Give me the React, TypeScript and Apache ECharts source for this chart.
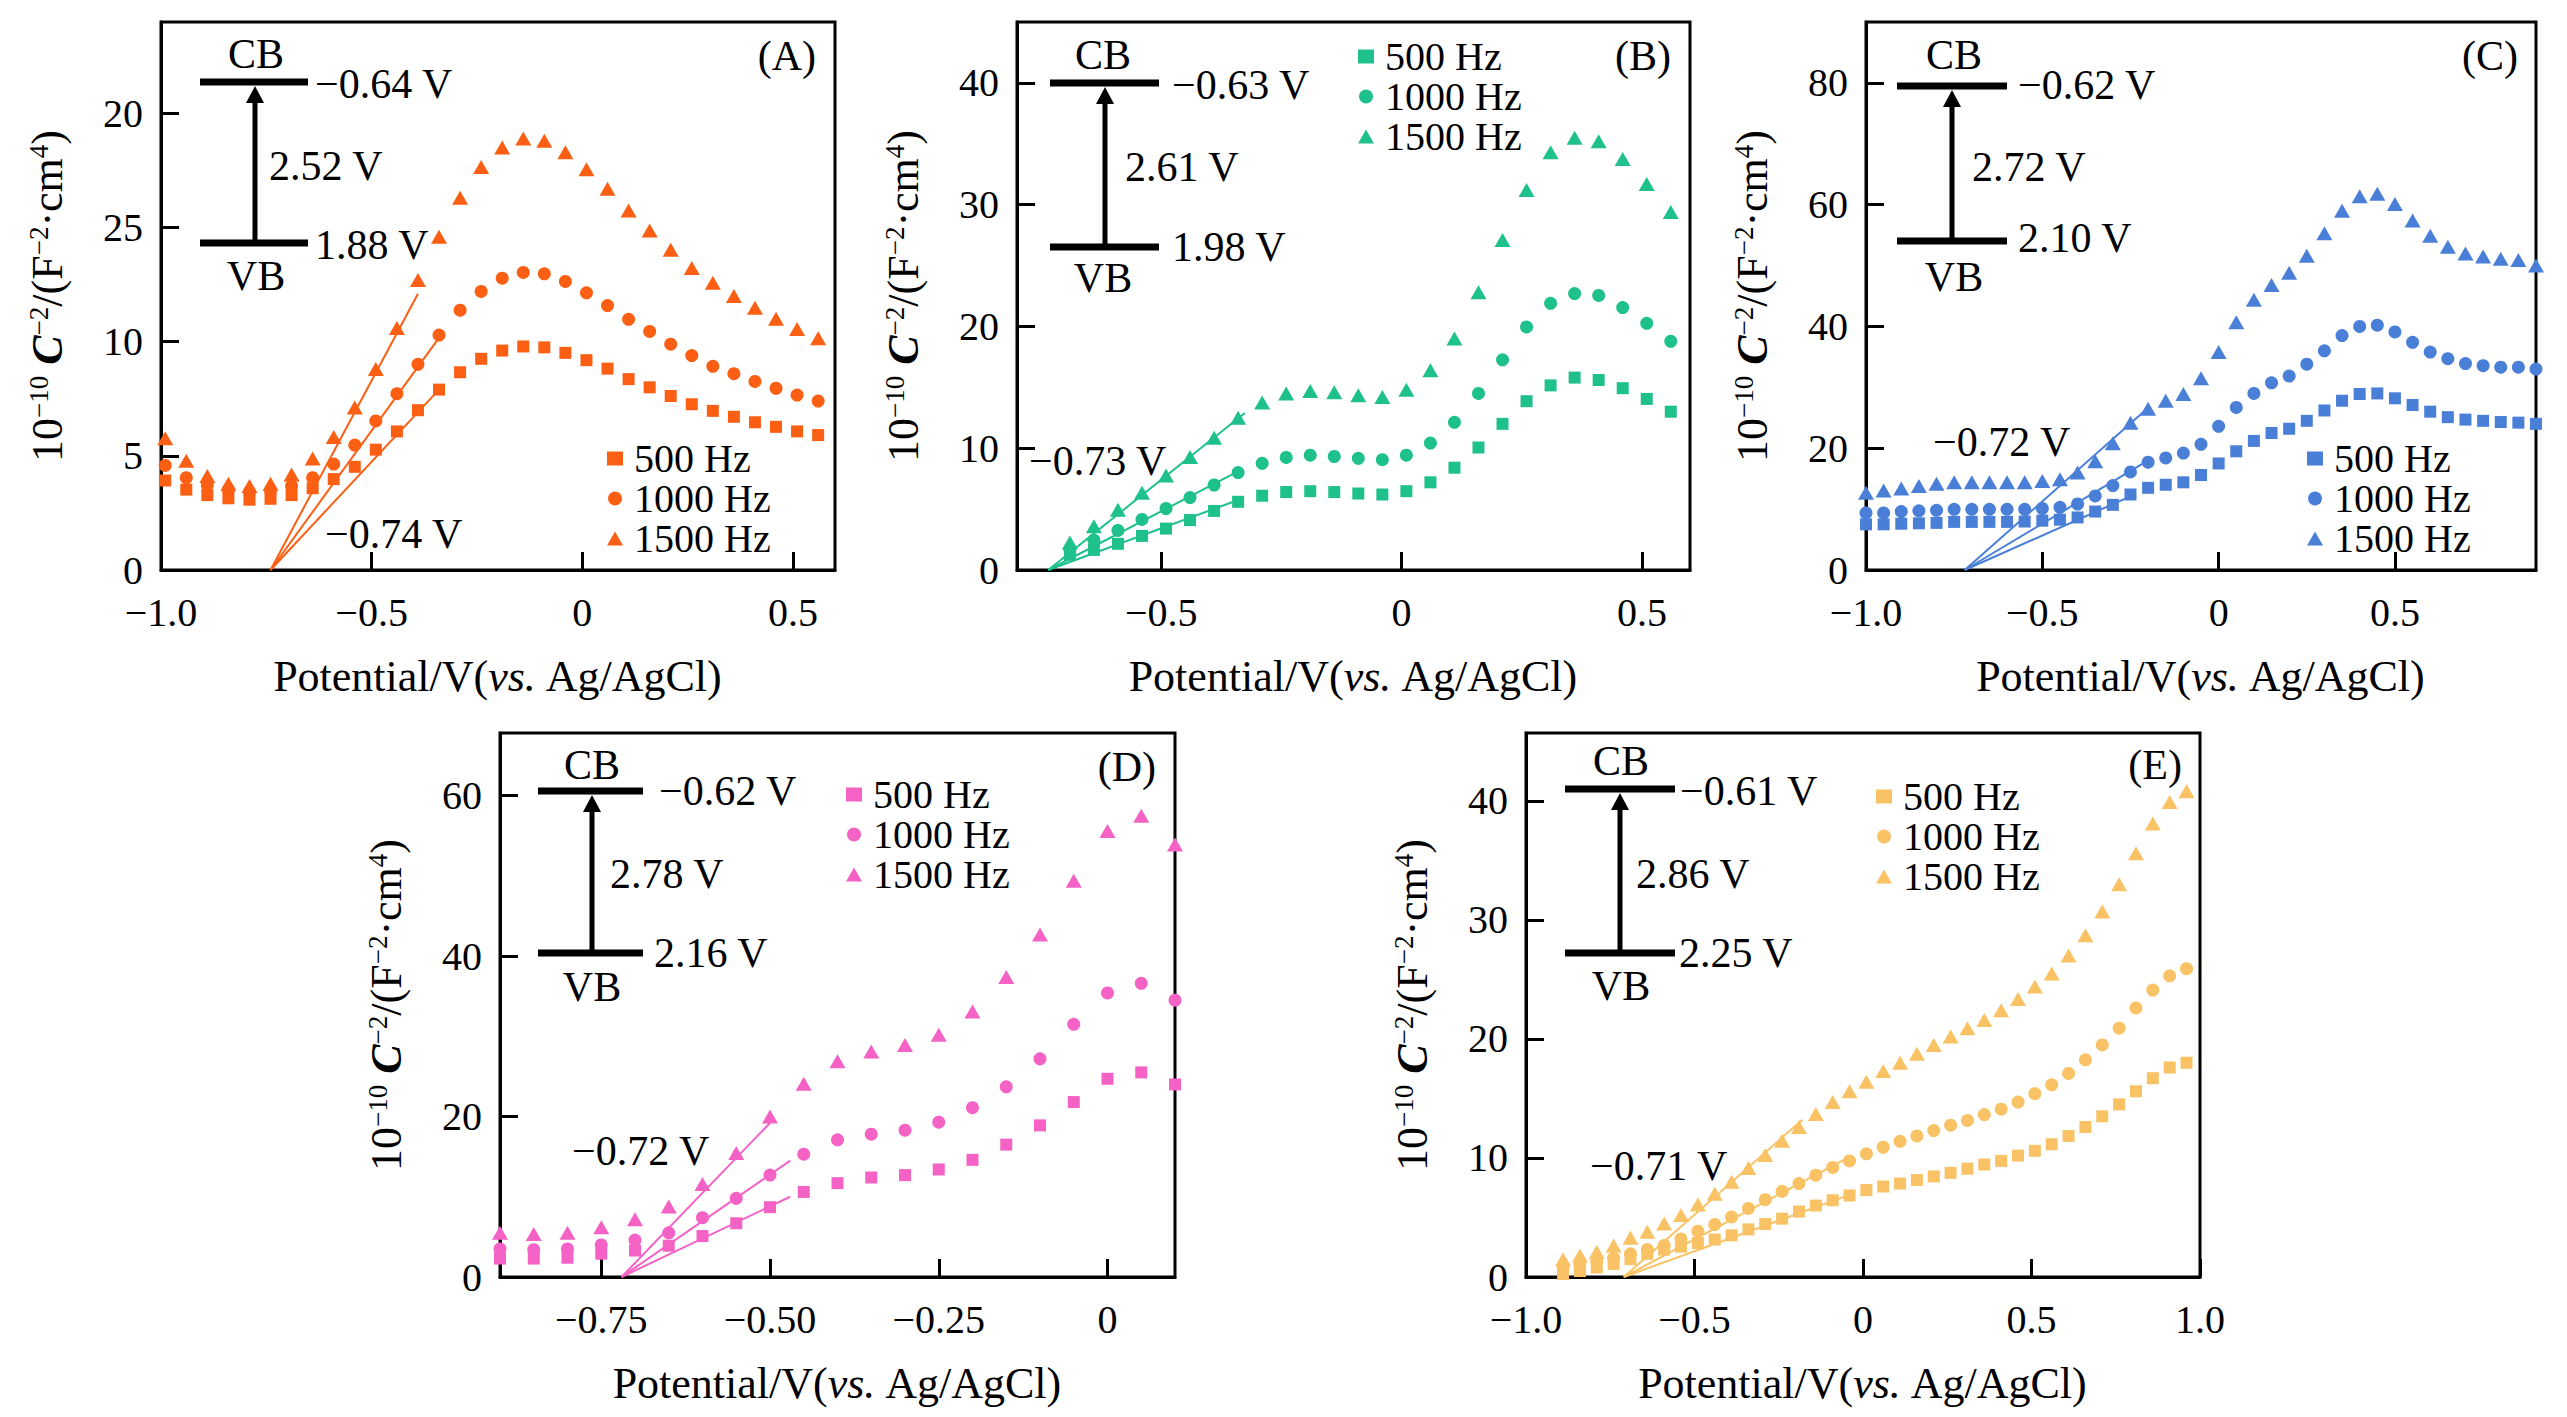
import React, { useEffect, useRef } from "react";
import * as echarts from "echarts";

const FONT = '"Liberation Serif", "Times New Roman", "DejaVu Serif", serif';

// ---------------- Panel A ----------------
const A_X = [-0.99, -0.94, -0.89, -0.84, -0.79, -0.74, -0.69, -0.64, -0.59, -0.54, -0.49, -0.44, -0.39, -0.34, -0.29, -0.24, -0.19, -0.14, -0.09, -0.04, 0.01, 0.06, 0.11, 0.16, 0.21, 0.26, 0.31, 0.36, 0.41, 0.46, 0.51, 0.56];
const A_500 = [3.92, 3.52, 3.28, 3.14, 3.08, 3.12, 3.28, 3.58, 3.98, 4.52, 5.27, 6.07, 7.0, 7.9, 8.66, 9.25, 9.61, 9.79, 9.75, 9.51, 9.19, 8.82, 8.36, 8.0, 7.62, 7.26, 6.97, 6.71, 6.47, 6.27, 6.07, 5.91];
const A_1000 = [4.58, 4.04, 3.72, 3.52, 3.42, 3.48, 3.68, 4.04, 4.64, 5.47, 6.53, 7.72, 9.01, 10.29, 11.38, 12.2, 12.78, 13.03, 12.97, 12.64, 12.14, 11.58, 10.98, 10.45, 9.89, 9.39, 8.92, 8.6, 8.26, 7.96, 7.66, 7.4];
const A_1500 = [5.77, 4.78, 4.12, 3.78, 3.68, 3.78, 4.18, 4.88, 5.83, 7.12, 8.8, 10.6, 12.7, 14.6, 16.3, 17.65, 18.5, 18.9, 18.8, 18.3, 17.55, 16.7, 15.75, 14.87, 14.03, 13.23, 12.58, 12.0, 11.48, 11.0, 10.55, 10.15];
const A_FIT_500 = [[-0.74, 0], [-0.335, 8.0]];
const A_FIT_1000 = [[-0.74, 0], [-0.335, 10.3]];
const A_FIT_1500 = [[-0.74, 0], [-0.39, 12.1]];
const A_X_TICKS = [-1, -0.5, 0, 0.5];
const A_X_LABELS = ["\u22121.0", "\u22120.5", "0", "0.5"];
const A_Y_TICKS = [0, 5, 10, 15, 20];
const A_Y_LABELS = ["0", "5", "10", "25", "20"];
const A_TEXTS = ["\u22120.64 V", "2.52 V", "1.88 V", "(A)", "\u22120.74 V"];

// ---------------- Panel B ----------------
const B_X = [-0.69, -0.64, -0.59, -0.54, -0.49, -0.44, -0.39, -0.34, -0.29, -0.24, -0.19, -0.14, -0.09, -0.04, 0.01, 0.06, 0.11, 0.16, 0.21, 0.26, 0.31, 0.36, 0.41, 0.46, 0.51, 0.56];
const B_500 = [1.25, 1.65, 2.15, 2.8, 3.4, 4.1, 4.85, 5.6, 6.1, 6.4, 6.47, 6.4, 6.28, 6.2, 6.47, 7.2, 8.4, 10.06, 12.0, 13.86, 15.16, 15.8, 15.6, 14.93, 14.05, 13.0];
const B_1000 = [1.7, 2.45, 3.25, 4.15, 5.05, 5.95, 6.98, 8.0, 8.76, 9.24, 9.43, 9.32, 9.17, 9.06, 9.43, 10.42, 12.13, 14.5, 17.26, 19.96, 21.9, 22.7, 22.55, 21.55, 20.26, 18.78];
const B_1500 = [2.25, 3.6, 4.95, 6.35, 7.75, 9.28, 10.85, 12.5, 13.75, 14.5, 14.7, 14.6, 14.35, 14.2, 14.8, 16.4, 19.0, 22.8, 27.1, 31.2, 34.3, 35.5, 35.2, 33.75, 31.7, 29.4];
const B_FIT_500 = [[-0.735, 0], [-0.34, 5.75]];
const B_FIT_1000 = [[-0.735, 0], [-0.34, 8.1]];
const B_FIT_1500 = [[-0.735, 0], [-0.326, 12.9]];
const B_X_TICKS = [-0.5, 0, 0.5];
const B_X_LABELS = ["\u22120.5", "0", "0.5"];
const B_Y_TICKS = [0, 10, 20, 30, 40];
const B_Y_LABELS = ["0", "10", "20", "30", "40"];
const B_TEXTS = ["\u22120.63 V", "2.61 V", "1.98 V", "(B)", "\u22120.73 V"];

// ---------------- Panel C ----------------
const C_X = [-1.0, -0.95, -0.9, -0.85, -0.8, -0.75, -0.7, -0.65, -0.6, -0.55, -0.5, -0.45, -0.4, -0.35, -0.3, -0.25, -0.2, -0.15, -0.1, -0.05, 0.0, 0.05, 0.1, 0.15, 0.2, 0.25, 0.3, 0.35, 0.4, 0.45, 0.5, 0.55, 0.6, 0.65, 0.7, 0.75, 0.8, 0.85, 0.9];
const C_500 = [7.5, 7.5, 7.6, 7.67, 7.74, 7.9, 7.9, 7.9, 7.9, 7.96, 8.1, 8.26, 8.63, 9.6, 10.7, 12.4, 13.5, 14.0, 14.4, 15.6, 17.5, 19.5, 21.2, 22.5, 23.2, 24.5, 26.2, 27.8, 28.9, 29.0, 28.2, 27.1, 26.0, 25.1, 24.7, 24.5, 24.3, 24.2, 24.0];
const C_1000 = [9.37, 9.37, 9.6, 9.73, 9.8, 9.96, 9.96, 9.96, 9.96, 9.96, 10.1, 10.3, 10.84, 12.17, 13.86, 16.1, 17.7, 18.4, 19.2, 20.65, 23.6, 26.7, 29.0, 30.75, 31.86, 33.8, 36.0, 38.5, 40.0, 40.2, 39.1, 37.4, 35.8, 34.7, 33.9, 33.55, 33.3, 33.3, 33.0];
const C_1500 = [12.7, 13.05, 13.4, 13.8, 14.16, 14.4, 14.4, 14.4, 14.4, 14.4, 14.6, 14.9, 16.0, 17.85, 20.8, 24.2, 26.5, 27.8, 28.9, 31.5, 35.8, 40.7, 44.4, 46.8, 48.8, 51.6, 55.3, 59.0, 61.4, 61.8, 60.1, 57.4, 54.9, 53.1, 52.0, 51.5, 51.1, 50.9, 50.0];
const C_FIT_500 = [[-0.72, 0], [-0.25, 12.1]];
const C_FIT_1000 = [[-0.72, 0], [-0.2, 18.0]];
const C_FIT_1500 = [[-0.72, 0], [-0.195, 26.9]];
const C_X_TICKS = [-1, -0.5, 0, 0.5];
const C_X_LABELS = ["\u22121.0", "\u22120.5", "0", "0.5"];
const C_Y_TICKS = [0, 20, 40, 60, 80];
const C_Y_LABELS = ["0", "20", "40", "60", "80"];
const C_TEXTS = ["\u22120.62 V", "2.72 V", "2.10 V", "(C)", "\u22120.72 V"];

// ---------------- Panel D ----------------
const D_X = [-0.9, -0.85, -0.8, -0.75, -0.7, -0.65, -0.6, -0.55, -0.5, -0.45, -0.4, -0.35, -0.3, -0.25, -0.2, -0.15, -0.1, -0.05, 0.0, 0.05, 0.1];
const D_500 = [2.3, 2.3, 2.4, 2.9, 3.3, 3.9, 5.1, 6.7, 8.7, 10.6, 11.7, 12.4, 12.7, 13.4, 14.6, 16.5, 18.9, 21.8, 24.7, 25.5, 24.0];
const D_1000 = [3.5, 3.4, 3.5, 4.0, 4.6, 5.5, 7.4, 9.8, 12.7, 15.3, 17.1, 17.8, 18.3, 19.3, 21.1, 23.7, 27.2, 31.5, 35.4, 36.6, 34.5];
const D_1500 = [5.5, 5.35, 5.5, 6.2, 7.2, 8.8, 11.6, 15.45, 20.0, 24.1, 26.9, 28.1, 28.9, 30.2, 33.1, 37.4, 42.7, 49.4, 55.6, 57.5, 53.9];
const D_FIT_500 = [[-0.72, 0], [-0.47, 10.0]];
const D_FIT_1000 = [[-0.72, 0], [-0.47, 14.5]];
const D_FIT_1500 = [[-0.72, 0], [-0.5, 19.2]];
const D_X_TICKS = [-0.75, -0.5, -0.25, 0];
const D_X_LABELS = ["\u22120.75", "\u22120.50", "\u22120.25", "0"];
const D_Y_TICKS = [0, 20, 40, 60];
const D_Y_LABELS = ["0", "20", "40", "60"];
const D_TEXTS = ["\u22120.62 V", "2.78 V", "2.16 V", "(D)", "\u22120.72 V"];

// ---------------- Panel E ----------------
const E_X = [-0.89, -0.84, -0.79, -0.74, -0.69, -0.64, -0.59, -0.54, -0.49, -0.44, -0.39, -0.34, -0.29, -0.24, -0.19, -0.14, -0.09, -0.04, 0.01, 0.06, 0.11, 0.16, 0.21, 0.26, 0.31, 0.36, 0.41, 0.46, 0.51, 0.56, 0.61, 0.66, 0.71, 0.76, 0.81, 0.86, 0.91, 0.96];
const E_500 = [0.25, 0.5, 0.8, 1.1, 1.5, 1.95, 2.3, 2.55, 2.85, 3.15, 3.5, 4.0, 4.45, 4.9, 5.5, 6.0, 6.45, 6.85, 7.3, 7.6, 7.85, 8.15, 8.45, 8.75, 9.1, 9.45, 9.75, 10.2, 10.6, 11.15, 11.85, 12.6, 13.5, 14.5, 15.6, 16.7, 17.6, 18.0];
const E_1000 = [0.85, 1.1, 1.3, 1.6, 1.95, 2.3, 2.65, 3.2, 3.85, 4.4, 5.05, 5.76, 6.5, 7.2, 7.85, 8.55, 9.2, 9.75, 10.35, 10.9, 11.4, 11.85, 12.3, 12.75, 13.15, 13.65, 14.1, 14.7, 15.4, 16.15, 17.1, 18.25, 19.5, 20.9, 22.6, 24.1, 25.3, 25.9];
const E_1500 = [1.5, 1.8, 2.1, 2.65, 3.3, 3.8, 4.5, 5.2, 6.1, 7.0, 8.0, 9.15, 10.25, 11.45, 12.6, 13.7, 14.7, 15.6, 16.4, 17.3, 18.0, 18.75, 19.5, 20.2, 20.9, 21.6, 22.4, 23.35, 24.4, 25.5, 27.0, 28.7, 30.7, 33.0, 35.6, 38.1, 39.9, 40.8];
const E_FIT_500 = [[-0.71, 0], [-0.04, 6.9]];
const E_FIT_1000 = [[-0.71, 0], [-0.04, 10.1]];
const E_FIT_1500 = [[-0.71, 0], [-0.18, 13.2]];
const E_X_TICKS = [-1, -0.5, 0, 0.5, 1];
const E_X_LABELS = ["\u22121.0", "\u22120.5", "0", "0.5", "1.0"];
const E_Y_TICKS = [0, 10, 20, 30, 40];
const E_Y_LABELS = ["0", "10", "20", "30", "40"];
const E_TEXTS = ["\u22120.61 V", "2.86 V", "2.25 V", "(E)", "\u22120.71 V"];

const FREQ_LABELS = ["500 Hz", "1000 Hz", "1500 Hz"];
const SYMBOLS = ["rect", "circle", "triangle"];
const SYMBOL_SIZES: any[] = [12, 13, [16, 14]];

// ---------------- layout (pixels) ----------------
const PANELS = [
  {
    id: "A", color: "#FA5F14", box: [161, 22, 674, 548], xMin: -1.0, xMax: 0.6, yMax: 24,
    x: A_X, series: [A_500, A_1000, A_1500], fits: [A_FIT_500, A_FIT_1000, A_FIT_1500],
    xTicks: A_X_TICKS, xLabels: A_X_LABELS, yTicks: A_Y_TICKS, yLabels: A_Y_LABELS, texts: A_TEXTS,
    ann: { cbY: 60, vbY: 221, bx1: 39, bx2: 147, ax: 94, cbLab: [95, 32], vbLab: [95, 254], cbVal: [154, 62], gap: [108, 144], vbVal: [154, 223], tag: [655, 34], flat: [164, 512] },
    leg: { mx: 454, y0: 436 },
  },
  {
    id: "B", color: "#1EC08C", box: [1017, 22, 673, 548], xMin: -0.8, xMax: 0.6, yMax: 45,
    x: B_X, series: [B_500, B_1000, B_1500], fits: [B_FIT_500, B_FIT_1000, B_FIT_1500],
    xTicks: B_X_TICKS, xLabels: B_X_LABELS, yTicks: B_Y_TICKS, yLabels: B_Y_LABELS, texts: B_TEXTS,
    ann: { cbY: 61, vbY: 225, bx1: 33, bx2: 142, ax: 88, cbLab: [86, 33], vbLab: [86, 256], cbVal: [155, 63], gap: [108, 145], vbVal: [155, 225], tag: [654, 34], flat: [12, 439] },
    leg: { mx: 349, y0: 34 },
  },
  {
    id: "C", color: "#4A7FD8", box: [1866, 22, 670, 548], xMin: -1.0, xMax: 0.9, yMax: 90,
    x: C_X, series: [C_500, C_1000, C_1500], fits: [C_FIT_500, C_FIT_1000, C_FIT_1500],
    xTicks: C_X_TICKS, xLabels: C_X_LABELS, yTicks: C_Y_TICKS, yLabels: C_Y_LABELS, texts: C_TEXTS,
    ann: { cbY: 64, vbY: 219, bx1: 31, bx2: 141, ax: 86, cbLab: [88, 33], vbLab: [88, 255], cbVal: [152, 63], gap: [106, 145], vbVal: [152, 216], tag: [652, 34], flat: [67, 420] },
    leg: { mx: 449, y0: 436 },
  },
  {
    id: "D", color: "#F462C6", box: [500, 733, 675, 544], xMin: -0.9, xMax: 0.1, yMax: 67.8,
    x: D_X, series: [D_500, D_1000, D_1500], fits: [D_FIT_500, D_FIT_1000, D_FIT_1500],
    xTicks: D_X_TICKS, xLabels: D_X_LABELS, yTicks: D_Y_TICKS, yLabels: D_Y_LABELS, texts: D_TEXTS,
    ann: { cbY: 58, vbY: 220, bx1: 38, bx2: 143, ax: 92, cbLab: [92, 32], vbLab: [92, 254], cbVal: [159, 58], gap: [110, 141], vbVal: [154, 220], tag: [656, 34], flat: [72, 418] },
    leg: { mx: 354, y0: 61 },
  },
  {
    id: "E", color: "#F9C265", box: [1526, 733, 674, 544], xMin: -1.0, xMax: 1.0, yMax: 45.7,
    x: E_X, series: [E_500, E_1000, E_1500], fits: [E_FIT_500, E_FIT_1000, E_FIT_1500],
    xTicks: E_X_TICKS, xLabels: E_X_LABELS, yTicks: E_Y_TICKS, yLabels: E_Y_LABELS, texts: E_TEXTS,
    ann: { cbY: 56, vbY: 220, bx1: 39, bx2: 149, ax: 94, cbLab: [95, 28], vbLab: [95, 253], cbVal: [154, 58], gap: [110, 141], vbVal: [153, 220], tag: [656, 32], flat: [64, 433] },
    leg: { mx: 358, y0: 63 },
  },
];

const pick = (ticks: number[], labels: string[], v: number) => {
  const i = ticks.findIndex((t) => Math.abs(t - v) < 1e-6);
  return i >= 0 ? labels[i] : "";
};

const txt = (text: string, x: number, y: number, align: string, size = 42) => ({
  type: "text",
  x,
  y,
  z: 100,
  silent: true,
  style: {
    text,
    fill: "#000",
    fontSize: size,
    fontFamily: FONT,
    textAlign: align,
    textVerticalAlign: "middle",
    align,
    verticalAlign: "middle",
  },
});

function buildOption() {
  const grid: any[] = [];
  const xAxis: any[] = [];
  const yAxis: any[] = [];
  const series: any[] = [];
  const legend: any[] = [];
  const graphic: any[] = [];

  PANELS.forEach((p, i) => {
    const [L, T, Wd, Ht] = p.box;
    grid.push({
      left: L, top: T, width: Wd, height: Ht,
      show: true, borderColor: "#000", borderWidth: 3, backgroundColor: "transparent",
      containLabel: false, outerBoundsMode: "none",
    });
    xAxis.push({
      type: "value", gridIndex: i, min: p.xMin, max: p.xMax,
      axisLine: { show: true, onZero: false, lineStyle: { color: "#000", width: 3 } },
      axisTick: { show: true, inside: true, length: 18, customValues: p.xTicks, lineStyle: { color: "#000", width: 3 } },
      axisLabel: {
        customValues: p.xTicks,
        formatter: (v: number) => pick(p.xTicks, p.xLabels, v),
        color: "#000", fontFamily: FONT, fontSize: 40, margin: 22,
      },
      splitLine: { show: false },
      name: "{r|Potential/V(}{i|vs.}{r| Ag/AgCl)}",
      nameLocation: "middle",
      nameGap: 84,
      nameTextStyle: {
        color: "#000", fontFamily: FONT, fontSize: 44,
        rich: {
          r: { color: "#000", fontFamily: FONT, fontSize: 44, lineHeight: 44 },
          i: { color: "#000", fontFamily: FONT, fontSize: 44, lineHeight: 44, fontStyle: "italic" },
        },
      },
    });
    yAxis.push({
      type: "value", gridIndex: i, min: 0, max: p.yMax,
      axisLine: { show: true, onZero: false, lineStyle: { color: "#000", width: 3 } },
      axisTick: { show: true, inside: true, length: 18, customValues: p.yTicks, lineStyle: { color: "#000", width: 3 } },
      axisLabel: {
        customValues: p.yTicks,
        formatter: (v: number) => pick(p.yTicks, p.yLabels, v),
        color: "#000", fontFamily: FONT, fontSize: 40, margin: 18,
      },
      splitLine: { show: false },
      name: "{n|10}{s|\u221210}{n| }{c|C}{s|\u22122}{n|/(F}{s|\u22122}{n|\u00B7cm}{s|4}{n|)}",
      nameLocation: "middle",
      nameGap: 92,
      nameTextStyle: {
        color: "#000", fontFamily: FONT, fontSize: 44,
        rich: {
          n: { color: "#000", fontFamily: FONT, fontSize: 44, lineHeight: 44 },
          c: { color: "#000", fontFamily: FONT, fontSize: 44, lineHeight: 44, fontStyle: "italic", fontWeight: "bold" },
          s: { color: "#000", fontFamily: FONT, fontSize: 27, lineHeight: 27, verticalAlign: "top" },
        },
      },
    });

    const names: string[] = [];
    p.series.forEach((vals, k) => {
      const name = p.id + "|" + FREQ_LABELS[k];
      names.push(name);
      series.push({
        type: "scatter", name, xAxisIndex: i, yAxisIndex: i,
        data: p.x.map((xv, j) => [xv, vals[j]]),
        symbol: SYMBOLS[k], symbolSize: SYMBOL_SIZES[k],
        itemStyle: { color: p.color, opacity: 1 },
        z: 2, silent: true,
      });
    });
    p.fits.forEach((fit) => {
      series.push({
        type: "line", xAxisIndex: i, yAxisIndex: i, data: fit,
        showSymbol: false, symbol: "none",
        lineStyle: { color: p.color, width: 2 },
        z: 3, silent: true,
      });
    });

    legend.push({
      orient: "vertical",
      left: L + p.leg.mx - 8,
      top: T + p.leg.y0 - 19.5,
      padding: 0, itemGap: 0, itemWidth: 16, itemHeight: 14,
      selectedMode: false,
      data: names,
      formatter: (n: string) => n.split("|")[1],
      textStyle: { color: "#000", fontFamily: FONT, fontSize: 40, lineHeight: 39, padding: [0, 0, 0, 6] },
    });

    const a = p.ann;
    const ax = L + a.ax;
    graphic.push(
      { type: "line", z: 100, silent: true, shape: { x1: L + a.bx1, y1: T + a.cbY, x2: L + a.bx2, y2: T + a.cbY }, style: { stroke: "#000", lineWidth: 7 } },
      { type: "line", z: 100, silent: true, shape: { x1: L + a.bx1, y1: T + a.vbY, x2: L + a.bx2, y2: T + a.vbY }, style: { stroke: "#000", lineWidth: 7 } },
      { type: "line", z: 100, silent: true, shape: { x1: ax, y1: T + a.vbY, x2: ax, y2: T + a.cbY + 18 }, style: { stroke: "#000", lineWidth: 5 } },
      { type: "polygon", z: 100, silent: true, shape: { points: [[ax - 9, T + a.cbY + 21], [ax + 9, T + a.cbY + 21], [ax, T + a.cbY + 4]] }, style: { fill: "#000" } },
      txt("CB", L + a.cbLab[0], T + a.cbLab[1], "center"),
      txt("VB", L + a.vbLab[0], T + a.vbLab[1], "center"),
      txt(p.texts[0], L + a.cbVal[0], T + a.cbVal[1], "left"),
      txt(p.texts[1], L + a.gap[0], T + a.gap[1], "left"),
      txt(p.texts[2], L + a.vbVal[0], T + a.vbVal[1], "left"),
      txt(p.texts[3], L + a.tag[0], T + a.tag[1], "right"),
      txt(p.texts[4], L + a.flat[0], T + a.flat[1], "left"),
    );
  });

  return {
    animation: false,
    backgroundColor: "#ffffff",
    textStyle: { fontFamily: FONT },
    grid, xAxis, yAxis, series, legend,
    graphic: { elements: graphic },
  };
}

export default function App() {
  const ref = useRef<HTMLDivElement>(null);
  useEffect(() => {
    if (!ref.current) return;
    const chart = echarts.init(ref.current, undefined, { renderer: "svg" });
    chart.setOption(buildOption() as any);
    return () => chart.dispose();
  }, []);
  return (
    <div
      ref={ref}
      style={{ position: "fixed", left: 0, top: 0, width: 2567, height: 1417, background: "#fff" }}
    />
  );
}
